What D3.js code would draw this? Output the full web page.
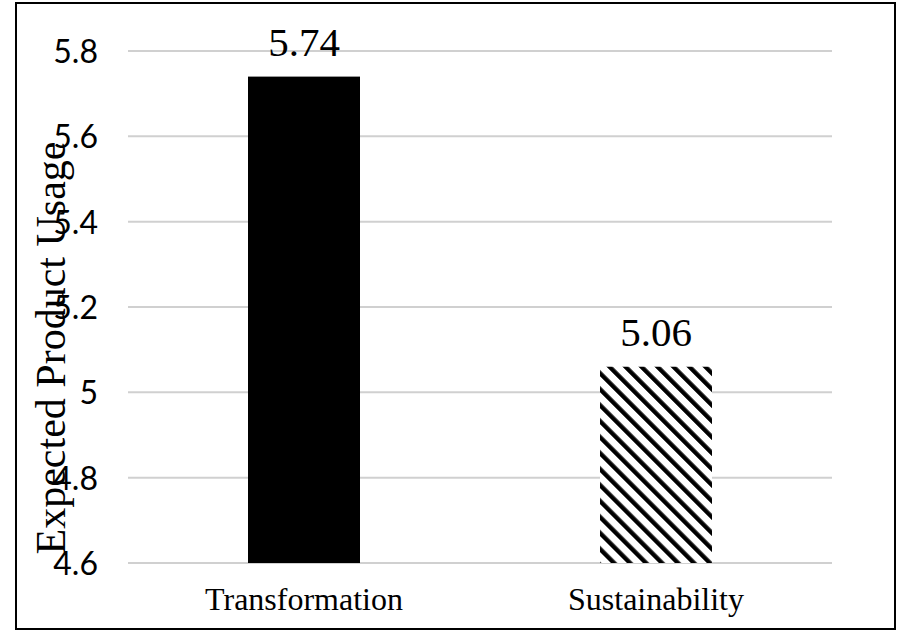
<!DOCTYPE html>
<html>
<head>
<meta charset="utf-8">
<script src="https://cdn.jsdelivr.net/npm/d3@7"></script>
<style>
  html, body { margin: 0; padding: 0; background: #fff; }
  svg { display: block; }
</style>
</head>
<body>
<svg id="chart" width="903" height="631"></svg>
<script>
// Chart data
const categories = ["Transformation", "Sustainability"];
const values = [5.74, 5.06];
const tickValues = [4.6, 4.8, 5.0, 5.2, 5.4, 5.6, 5.8];
const tickLabels = ["4.6", "4.8", "5", "5.2", "5.4", "5.6", "5.8"];
const yTitle = "Expected Product Usage";

const svg = d3.select("#chart");
const plot = { left: 128, right: 832, top: 51, bottom: 563 };

// Frame around the chart
svg.append("rect")
  .attr("x", 16).attr("y", 3)
  .attr("width", 879).attr("height", 626)
  .attr("fill", "#fff")
  .attr("stroke", "#000")
  .attr("stroke-width", 2);

// Diagonal hatch fill for the second bar
const defs = svg.append("defs");
const pat = defs.append("pattern")
  .attr("id", "hatch")
  .attr("patternUnits", "userSpaceOnUse")
  .attr("width", 11.3).attr("height", 11.3)
  .attr("patternTransform", "rotate(-45)");
pat.append("rect").attr("width", 11.3).attr("height", 11.3).attr("fill", "#fff");
pat.append("rect").attr("width", 4.4).attr("height", 11.3).attr("fill", "#000");

const x = d3.scaleBand()
  .domain(categories)
  .range([plot.left, plot.right])
  .paddingInner(0).paddingOuter(0);

const y = d3.scaleLinear()
  .domain([tickValues[0], tickValues[tickValues.length - 1]])
  .range([plot.bottom, plot.top]);

// Horizontal gridlines
svg.append("g")
  .selectAll("line")
  .data(tickValues)
  .join("line")
  .attr("x1", plot.left).attr("x2", plot.right)
  .attr("y1", d => y(d)).attr("y2", d => y(d))
  .attr("stroke", "#d0d0d0")
  .attr("stroke-width", 2);

// Y axis tick labels
const yAxis = d3.axisLeft(y)
  .tickValues(tickValues)
  .tickFormat((d, i) => tickLabels[i])
  .tickSize(0)
  .tickPadding(0);
const gy = svg.append("g")
  .attr("transform", `translate(98,0)`)
  .call(yAxis);
gy.select(".domain").remove();
gy.selectAll("text")
  .attr("font-family", "Lato, 'Open Sans', sans-serif")
  .attr("font-size", 32)
  .attr("fill", "#000")
  .attr("dy", "0.36em");

// Bars
const barW = 112;
const fills = ["#000", "url(#hatch)"];
svg.append("g")
  .selectAll("rect")
  .data(categories)
  .join("rect")
  .attr("x", d => x(d) + x.bandwidth() / 2 - barW / 2)
  .attr("width", barW)
  .attr("y", (d, i) => y(values[i]))
  .attr("height", (d, i) => y(tickValues[0]) - y(values[i]))
  .attr("fill", (d, i) => fills[i]);

// Value labels
svg.append("g")
  .selectAll("text")
  .data(categories)
  .join("text")
  .attr("x", d => x(d) + x.bandwidth() / 2)
  .attr("y", (d, i) => y(values[i]) - 21)
  .attr("text-anchor", "middle")
  .attr("font-family", "'Liberation Serif', 'Times New Roman', serif")
  .attr("font-size", 41)
  .attr("fill", "#000")
  .text((d, i) => values[i].toFixed(2));

// Category labels
const xAxis = d3.axisBottom(x).tickSize(0).tickPadding(0);
const gx = svg.append("g")
  .attr("transform", `translate(0,${plot.bottom})`)
  .call(xAxis);
gx.select(".domain").remove();
gx.selectAll("text")
  .attr("font-family", "'Liberation Serif', 'Times New Roman', serif")
  .attr("font-size", 32)
  .attr("fill", "#000")
  .attr("dy", null)
  .attr("y", 47);

// Y axis title
svg.append("text")
  .attr("transform", "translate(65,348) rotate(-90)")
  .attr("text-anchor", "middle")
  .attr("font-family", "'Liberation Serif', 'Times New Roman', serif")
  .attr("font-size", 42)
  .attr("fill", "#000")
  .text(yTitle);
</script>
</body>
</html>
